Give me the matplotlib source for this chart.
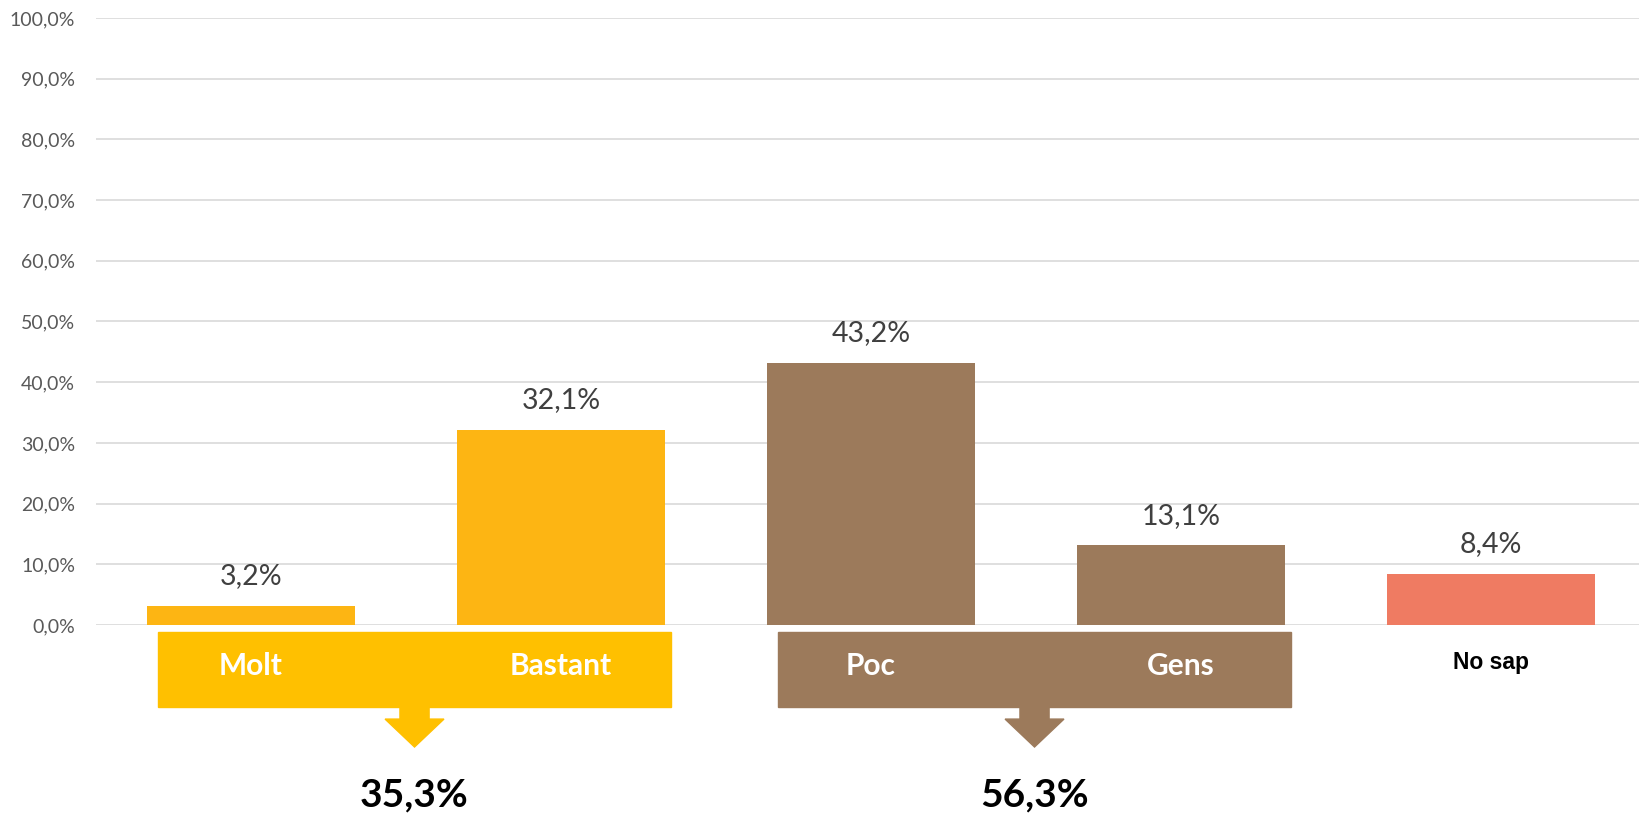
import numpy as np
import matplotlib
matplotlib.use("Agg")
import matplotlib.pyplot as plt
from matplotlib.patches import Rectangle, Polygon

categories = ["Molt", "Bastant", "Poc", "Gens", "No sap"]
values = [3.2, 32.1, 43.2, 13.1, 8.4]
bar_colors = ["#FDB513", "#FDB513", "#9C7A5B", "#9C7A5B", "#EF7B62"]
yticks = [0, 10, 20, 30, 40, 50, 60, 70, 80, 90, 100]
# groups: (indexes, box colour)
groups = [([0, 1], "#FFC000"), ([2, 3], "#9C7A5B")]


def fmt(v, dec=1):
    return f"{v:.{dec}f}".replace(".", ",") + "%"


plt.rcParams['font.family'] = ['Lato', 'DejaVu Sans']

W, H = 1639, 813
fig = plt.figure(figsize=(W / 100, H / 100), dpi=100)
ax = fig.add_axes([96 / W, (H - 625) / H, 1 - 96 / W, (625 - 18) / H])

x = np.arange(len(categories))
ax.bar(x, values, width=0.67, color=bar_colors, zorder=3)

ax.set_xlim(-0.5, -0.5 + (W - 96) / 310)
ax.set_ylim(0, 100)
ax.set_yticks(yticks)
ax.set_yticklabels([fmt(t) for t in yticks], color="#595959", fontsize=14)
ax.tick_params(axis="y", length=0, pad=15)
ax.set_xticks([])
ax.yaxis.grid(True, color="#D9D9D9", lw=1.2, zorder=0)
for s in ax.spines.values():
    s.set_visible(False)

# data labels
for xi, v in zip(x, values):
    ax.annotate(fmt(v), (xi, v), xytext=(0, 21.5), textcoords="offset points",
                ha="center", va="center", fontsize=20.5, color="#404040")

# group boxes, arrows and totals
box_pad_l = 0.30
box_pad_r = 0.355
for idx, col in groups:
    x0 = x[idx[0]] - box_pad_l
    x1 = x[idx[-1]] + box_pad_r
    ax.add_patch(Rectangle((x0, -13.5), x1 - x0, 12.35, color=col,
                           clip_on=False, zorder=3))
    cx = (x0 + x1) / 2
    sw, hw = 0.047, 0.095
    arrow = [(cx - sw, -13.5), (cx + sw, -13.5), (cx + sw, -15.5),
             (cx + hw, -15.5), (cx, -20.1), (cx - hw, -15.5), (cx - sw, -15.5)]
    ax.add_patch(Polygon(arrow, closed=True, color=col, clip_on=False, zorder=3))
    total = sum(values[i] for i in idx)
    ax.text(cx, -28.0, fmt(total), ha="center", va="center", fontsize=28,
            fontweight="bold", color="black", clip_on=False)
    for i in idx:
        ax.text(x[i], -6.75, categories[i], ha="center", va="center",
                fontsize=21.5, fontweight="bold", color="white", zorder=4)

ax.text(x[4], -6.1, categories[4], ha="center", va="center", fontsize=16.5,
        fontweight="bold", color="black", family="Liberation Sans")

fig.savefig("out.png", dpi=100)
plt.close()
